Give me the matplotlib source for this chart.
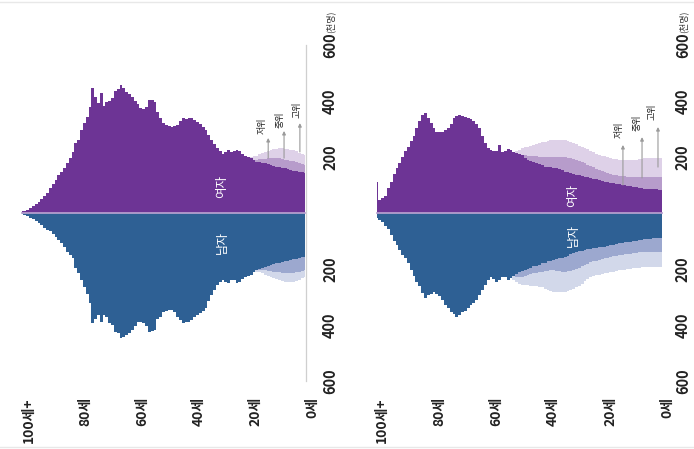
import numpy as np
import matplotlib
matplotlib.use("Agg")
import matplotlib.pyplot as plt
from matplotlib.transforms import blended_transform_factory, ScaledTranslation
from matplotlib.lines import Line2D

plt.rcParams['font.family'] = ['Noto Sans CJK KR', 'DejaVu Sans']

ages = list(range(0, 101))

# ---- Left panel (천명), index = age 0..100 (100 = 100세+)
left_female = [142,145,147,149,151,154,156,159,161,163,165,168,171,174,177,179,181,183,188,195,
               200,205,210,222,226,220,219,225,218,212,222,232,248,262,280,295,306,318,326,332,
               338,340,336,339,328,314,310,306,310,314,322,340,360,398,402,405,380,370,374,388,
               400,415,425,433,445,457,444,436,412,400,398,382,427,392,415,445,380,344,320,296,
               262,250,218,195,178,162,148,134,118,104,90,72,62,50,40,32,24,17,12,8,8]
left_male = [156,158,160,163,165,167,170,173,175,177,179,181,185,189,192,196,200,204,210,220,
             226,230,235,245,251,240,240,251,245,239,248,257,275,293,315,338,350,358,364,372,
             382,388,390,394,382,370,355,346,348,350,352,370,380,418,422,424,405,394,388,390,
             405,418,430,436,442,448,430,424,400,394,370,364,388,364,380,394,320,290,265,239,
             215,195,162,150,138,122,108,96,85,75,65,60,52,43,35,28,22,18,12,7,3]
# scenario bands (ages 0..n)
left_female_mid = [171,175,179,182,184,186,188,191,193,195,195,195,195,195,194,193,192,190,189,192,200]
left_female_high = [207,212,216,220,224,226,228,230,231,231,230,228,225,221,217,213,209,205,202,200,200]
left_male_mid = [204,207,210,212,214,215,215,214,213,212,210,209,208,206,205,203,202,204,210]
left_male_high = [227,233,238,242,245,246,246,245,242,238,235,232,228,224,220,216,212,210,212,220]

# ---- Right panel
right_female = [82,83,84,85,85,86,86,88,90,92,94,95,97,99,100,102,104,106,108,110,
                112,114,117,120,122,124,127,129,131,134,136,139,142,145,148,152,156,159,161,163,
                164,166,170,174,177,181,185,190,197,206,210,213,218,225,230,222,219,242,222,220,
                225,232,250,275,302,318,328,335,340,344,348,350,348,340,318,302,296,290,290,291,
                302,322,340,356,350,330,302,275,258,236,220,200,180,160,140,110,88,62,55,46,110]
right_male = [88,89,90,91,92,93,93,95,97,99,100,102,104,105,107,108,111,113,116,118,
              120,121,122,124,125,127,130,132,135,137,140,144,148,152,156,159,162,165,167,170,
              173,177,180,184,188,191,195,200,204,207,210,218,226,232,239,230,227,238,245,235,
              227,238,256,275,294,311,320,328,340,350,355,364,370,362,352,340,328,312,298,288,
              281,288,294,304,285,262,245,225,202,180,160,150,132,115,100,80,58,45,33,25,19]
right_female_mid = [130,129,128,128,127,127,127,127,128,128,129,130,130,131,132,133,134,135,138,142,
                    146,150,154,158,163,168,173,177,181,186,190,194,196,198,199,200,201,201,201,201,
                    201,201,201,201,202,203,204,205,206,207,210]
right_female_high = [195,195,195,195,195,195,195,194,193,191,190,189,189,189,190,191,192,194,196,199,
                     202,205,207,212,217,222,227,231,236,241,246,251,255,257,259,260,261,261,261,260,
                     258,255,252,249,246,243,240,237,234,231,226,222,218]
right_male_mid = [138,138,138,138,138,138,138,139,141,142,143,145,146,147,149,150,152,155,157,160,
                  162,165,167,170,172,176,181,186,191,196,200,203,206,208,210,209,207,206,205,204,
                  206,208,209,210,213,216,219,222,225,227,228,228,226]
right_male_high = [192,192,192,192,192,192,192,193,195,197,198,199,200,202,203,204,206,209,211,213,
                   215,218,220,223,225,229,236,244,252,260,266,271,275,279,281,281,281,281,281,280,
                   275,270,266,263,261,260,259,258,257,257,254,248,240,232]

age_ticks = [100, 80, 60, 40, 20, 0]
age_labels = ['100세+', '80세', '60세', '40세', '20세', '0세']
pop_ticks = [600, 400, 200, -200, -400, -600]
pop_labels = ['600', '400', '200', '200', '400', '600']
scen_labels = ['저위', '중위', '고위']

C_F = '#6D3495'
C_M = '#2E6094'
C_F_MID = '#B79CCB'
C_F_HIGH = '#DED1E8'
C_M_MID = '#9CA8CF'
C_M_HIGH = '#D2D8EA'

W, H = 694, 449
fig = plt.figure(figsize=(W/100, H/100), dpi=100)
fig.patch.set_facecolor('white')

def px_axes(x0, x1, y_top, y_bot):
    return fig.add_axes([x0/W, 1-y_bot/H, (x1-x0)/W, (y_bot-y_top)/H])

panels = [
    dict(ax=px_axes(20.6, 306.4, 45, 381), f=left_female, m=left_male,
         fm=left_female_mid, fh=left_female_high, mm=left_male_mid, mh=left_male_high,
         popx=1.083, agedx=7, vline=True,
         fem_lab=(29.3, 93), male_lab=(29.3, -107),
         arrows=[(13.0, 196, 268, 15.2, 311), (7.4, 196, 293, 8.8, 332), (1.8, 218, 321, 2.8, 368)]),
    dict(ax=px_axes(375.6, 663.4, 45, 381), f=right_female, m=right_male,
         fm=right_female_mid, fh=right_female_high, mm=right_male_mid, mh=right_male_high,
         popx=1.068, agedx=5, vline=False,
         fem_lab=(31.2, 64), male_lab=(31.2, -79),
         arrows=[(13.7, 100, 243, 14.9, 296), (7.0, 125, 271, 8.9, 321), (1.4, 164, 307, 3.6, 361)]),
]

for p in panels:
    ax = p['ax']
    ax.set_xlim(100.5, -0.5)
    ax.set_ylim(-600, 600)
    ax.axis('off')
    a = np.array(ages)
    # bands
    ax.fill_between(a[:len(p['fh'])], 0, p['fh'], step='mid', color=C_F_HIGH, lw=0, zorder=1)
    ax.fill_between(a[:len(p['fm'])], 0, p['fm'], step='mid', color=C_F_MID, lw=0, zorder=2)
    ax.fill_between(a[:len(p['mh'])], 0, -np.array(p['mh']), step='mid', color=C_M_HIGH, lw=0, zorder=1)
    ax.fill_between(a[:len(p['mm'])], 0, -np.array(p['mm']), step='mid', color=C_M_MID, lw=0, zorder=2)
    # main
    ax.fill_between(a, 0, p['f'], step='mid', color=C_F, lw=0, zorder=3)
    ax.fill_between(a, 0, -np.array(p['m']), step='mid', color=C_M, lw=0, zorder=3)
    ax.plot([100.5, -0.5], [0, 0], color='#BCA6D3', lw=1.2, zorder=4)
    if p['vline']:
        ax.plot([-0.5, -0.5], [-600, 600], color='#CFCFCF', lw=0.9, zorder=0, clip_on=False)

    # age labels
    tr = blended_transform_factory(ax.transData, ax.transAxes) + \
        ScaledTranslation(p['agedx']/100, 0, fig.dpi_scale_trans)
    for av, lab in zip(age_ticks, age_labels):
        ax.text(av, -0.048, lab, transform=tr, rotation=90, ha='center', va='top',
                fontsize=10, fontweight='bold', color='#222222', clip_on=False)
    # population labels
    tr2 = blended_transform_factory(ax.transAxes, ax.transData)
    for pv, lab in zip(pop_ticks, pop_labels):
        ax.text(p['popx'], pv, lab, transform=tr2, rotation=90, ha='center', va='center',
                fontsize=10.5, fontweight='bold', color='#222222', clip_on=False)
    ax.text(p['popx'], 600, '\n', transform=tr2, alpha=0)
    tr3 = tr2 + ScaledTranslation(0, 12/100, fig.dpi_scale_trans)
    ax.text(p['popx'], 600, '(천명)', transform=tr3, rotation=90, ha='center', va='bottom',
            fontsize=6.5, color='#333333', clip_on=False)

    # 여자 / 남자
    ax.text(*p['fem_lab'], '여자', rotation=90, ha='center', va='center', color='white',
            fontsize=9, zorder=6)
    ax.text(*p['male_lab'], '남자', rotation=90, ha='center', va='center', color='white',
            fontsize=9, zorder=6)

    # scenario arrows
    for (ax_age, y0, y1, lx, ly), lab in zip(p['arrows'], scen_labels):
        ax.annotate('', xy=(ax_age, y1), xytext=(ax_age, y0),
                    arrowprops=dict(arrowstyle='-|>', color='#9A9A9A', lw=0.8,
                                    mutation_scale=5, shrinkA=0, shrinkB=0), zorder=7)
        ax.text(lx, ly, lab, rotation=90, ha='center', va='center', fontsize=6.5,
                color='#222222', zorder=7)

# faint frame lines
fig.add_artist(Line2D([0, 1], [1-2/H, 1-2/H], color='#E8E8E8', lw=1))
fig.add_artist(Line2D([0, 1], [2/H, 2/H], color='#E8E8E8', lw=1))

fig.savefig('out.png', dpi=100, facecolor='white')
